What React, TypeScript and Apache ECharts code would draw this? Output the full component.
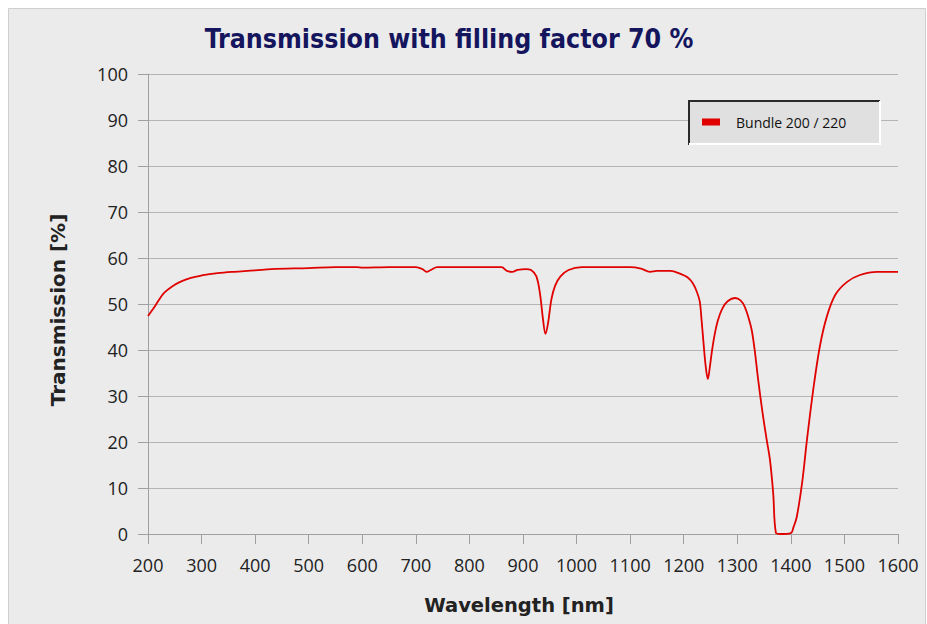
import React, { useEffect, useRef } from "react";
import * as echarts from "echarts";

const wavelengths = [
  200, 210, 220, 230, 245, 260, 280, 300, 330, 360, 400, 430, 500, 550, 590, 600, 650, 700, 712, 720, 728, 740,
  800, 860, 870, 880, 890, 905, 915, 925, 932, 937, 942, 947, 953, 960, 970, 985, 1010, 1100, 1120, 1137, 1150,
  1175, 1195, 1207, 1217, 1225, 1230, 1233, 1237, 1241, 1245, 1249, 1253, 1258, 1264, 1272, 1282, 1296, 1306,
  1314, 1321, 1327, 1333, 1339, 1347, 1355, 1361, 1367, 1372, 1380, 1400, 1405, 1411, 1421, 1430, 1441, 1454,
  1467, 1483, 1505, 1529, 1561, 1600,
];
const transmission = [
  47.4, 49.0, 50.8, 52.4, 53.8, 54.8, 55.7, 56.2, 56.7, 57.0, 57.3, 57.6, 57.8, 58.0, 58.0, 57.9, 58.0, 58.0, 57.6,
  57.0, 57.4, 58.0, 58.0, 58.0, 57.2, 57.0, 57.4, 57.6, 57.4, 56.0, 52.0, 47.0, 43.5, 46.0, 51.0, 54.0, 56.0,
  57.4, 58.0, 58.0, 57.7, 57.0, 57.2, 57.2, 56.5, 55.8, 54.5, 52.5, 50.5, 47.0, 41.5, 36.5, 33.7, 36.5, 40.0,
  43.5, 46.5, 49.0, 50.6, 51.3, 50.8, 49.4, 47.0, 44.3, 39.5, 33.5, 26.5, 20.4, 16.1, 8.9, 0.3, 0.0, 0.2, 1.5,
  3.7, 11.1, 20.4, 30.7, 40.7, 47.2, 52.0, 54.8, 56.3, 57.0, 57.0,
];
const seriesName = "Bundle 200 / 220";
const titleText = "Transmission with filling factor 70 %";
const xTitle = "Wavelength [nm]";
const yTitle = "Transmission [%]";

const FONT = "'Open Sans', 'DejaVu Sans', sans-serif";
const TITLE_FONT = "'DejaVu Sans Condensed', 'Open Sans', sans-serif";
const AXIS_TITLE_FONT = "'DejaVu Sans', 'Open Sans', sans-serif";

export default function App() {
  const ref = useRef<HTMLDivElement>(null);
  useEffect(() => {
    if (!ref.current) return;
    const chart = echarts.init(ref.current, null, { renderer: "svg" });
    const data = wavelengths.map((w, i) => [w, transmission[i]]);
    chart.setOption({
      animation: false,
      backgroundColor: "#ffffff",
      textStyle: { fontFamily: FONT },
      grid: { left: 148, top: 74, right: 29, bottom: 90, containLabel: false },
      xAxis: {
        type: "value",
        min: 200,
        max: 1600,
        interval: 100,
        axisLine: { show: true, lineStyle: { color: "#a0a0a0", width: 1 } },
        axisTick: { show: true, length: 10, lineStyle: { color: "#a0a0a0" } },
        axisLabel: {
          margin: 22,
          color: "#222",
          fontSize: 18,
          fontFamily: FONT,
          formatter: (v: number) => String(v),
        },
        splitLine: { show: false },
      },
      yAxis: {
        type: "value",
        min: 0,
        max: 100,
        interval: 10,
        axisLine: { show: true, lineStyle: { color: "#a0a0a0", width: 1 } },
        axisTick: { show: true, length: 10, lineStyle: { color: "#a0a0a0" } },
        axisLabel: { margin: 20, color: "#222", fontSize: 18, fontFamily: FONT, formatter: (v: number) => String(v) },
        splitLine: { show: true, lineStyle: { color: "#b4b4b4", width: 1 } },
      },
      legend: {
        show: true,
        left: 702,
        top: 115,
        padding: 0,
        z: 20,
        icon: "rect",
        itemWidth: 18,
        itemHeight: 7,
        textStyle: { color: "#111", fontSize: 14, fontFamily: FONT, padding: [0, 0, 0, 11] },
        data: [seriesName],
      },
      series: [
        {
          name: seriesName,
          type: "line",
          data,
          showSymbol: false,
          smooth: 0.35,
          lineStyle: { color: "#e00000", width: 1.8 },
          itemStyle: { color: "#e00000" },
          z: 5,
        },
      ],
      graphic: [
        {
          type: "rect",
          z: -1,
          silent: true,
          shape: { x: 8.5, y: 8.5, width: 917, height: 625 },
          style: { fill: "#ebebeb", stroke: "#cfcfcf", lineWidth: 1 },
        },
        {
          type: "text",
          z: 10,
          x: 449,
          y: 38,
          style: {
            text: titleText,
            fill: "#15155e",
            font: `bold 26.5px ${TITLE_FONT}`,
            align: "center",
            verticalAlign: "middle",
          },
        },
        {
          type: "text",
          z: 10,
          x: 519,
          y: 605,
          style: {
            text: xTitle,
            fill: "#222",
            font: `bold 19.5px ${AXIS_TITLE_FONT}`,
            align: "center",
            verticalAlign: "middle",
          },
        },
        {
          type: "text",
          z: 10,
          x: 58,
          y: 310,
          rotation: Math.PI / 2,
          style: {
            text: yTitle,
            fill: "#222",
            font: `bold 20px ${AXIS_TITLE_FONT}`,
            align: "center",
            verticalAlign: "middle",
          },
        },
        {
          type: "rect",
          z: 15,
          silent: true,
          shape: { x: 688, y: 100, width: 192, height: 44 },
          style: { fill: "#e0e0e0" },
        },
        {
          type: "polyline",
          z: 16,
          silent: true,
          shape: { points: [[689, 145], [689, 101], [880, 101]] },
          style: { stroke: "#2a2a2a", lineWidth: 2, fill: null },
        },
        {
          type: "polyline",
          z: 16,
          silent: true,
          shape: { points: [[880, 101], [880, 144], [689, 144]] },
          style: { stroke: "#ffffff", lineWidth: 2, fill: null },
        },
      ],
    });
    return () => chart.dispose();
  }, []);
  return (
    <div style={{ position: "fixed", left: 0, top: 0, width: 927, height: 624, background: "#fff" }}>
      <div ref={ref} style={{ width: 927, height: 624 }} />
    </div>
  );
}
